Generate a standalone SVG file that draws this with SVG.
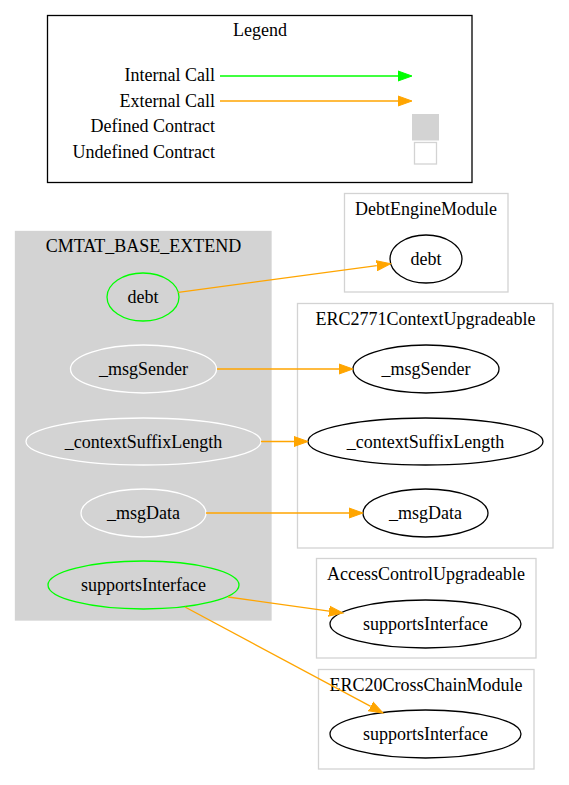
<svg xmlns="http://www.w3.org/2000/svg" width="569" height="785" viewBox="0 0 569 785">
<style>
text { font-family: "Liberation Serif", "Times New Roman", serif; font-size: 18px; fill: #000; }
.mid { text-anchor: middle; }
.end { text-anchor: end; }
.cl { fill: none; stroke: #d3d3d3; stroke-width: 1.3; }
.clf { fill: #d3d3d3; stroke: #d3d3d3; stroke-width: 1.3; }
.def { fill: none; stroke: #000; stroke-width: 1.3; }
.int { fill: none; stroke: #00ff00; stroke-width: 1.3; }
.und { fill: none; stroke: #ffffff; stroke-width: 1.3; }
.eo { fill: none; stroke: #ffa500; stroke-width: 1.3; }
.eg { fill: none; stroke: #00ff00; stroke-width: 1.3; }
</style>
<defs>
<marker id="ao" markerUnits="userSpaceOnUse" orient="auto" markerWidth="16" markerHeight="12" refX="0" refY="6" viewBox="0 0 16 12">
<path d="M0,1 L14,6 L0,11 z" fill="#ffa500" stroke="#ffa500" stroke-width="1"/>
</marker>
<marker id="ag" markerUnits="userSpaceOnUse" orient="auto" markerWidth="16" markerHeight="12" refX="0" refY="6" viewBox="0 0 16 12">
<path d="M0,1 L14,6 L0,11 z" fill="#00ff00" stroke="#00ff00" stroke-width="1"/>
</marker>
</defs>
<rect width="569" height="785" fill="#fff"/>

<g id="legend">
<rect x="47.5" y="15.5" width="424.5" height="167" fill="none" stroke="#000" stroke-width="1.3"/>
<text class="mid" x="260" y="36">Legend</text>
<text class="end" x="215" y="81">Internal Call</text>
<text class="end" x="215" y="106.5">External Call</text>
<text class="end" x="215" y="132">Defined Contract</text>
<text class="end" x="215" y="157.5">Undefined Contract</text>
<path class="eg" d="M220,76 L398,76" marker-end="url(#ag)"/>
<path class="eo" d="M220,101 L398,101" marker-end="url(#ao)"/>
<rect x="412.5" y="114.5" width="26" height="25.5" fill="#d3d3d3" stroke="#d3d3d3" stroke-width="1"/>
<rect x="414.5" y="142.5" width="22" height="21.5" fill="none" stroke="#d3d3d3" stroke-width="1.3"/>
</g>

<g id="cluster_CMTAT_BASE_EXTEND">
<rect class="clf" x="15.5" y="231.5" width="255.5" height="388.5"/>
<text class="mid" x="143.5" y="252">CMTAT_BASE_EXTEND</text>
</g>
<g id="node_base_debt"><ellipse class="int" cx="143" cy="297" rx="36" ry="24"/><text class="mid" x="143" y="303">debt</text></g>
<g id="node_base_msgSender"><ellipse class="und" cx="143.5" cy="369" rx="73" ry="24"/><text class="mid" x="143.5" y="375">_msgSender</text></g>
<g id="node_base_contextSuffixLength"><ellipse class="und" cx="143.5" cy="441.5" rx="117.5" ry="23.5"/><text class="mid" x="143.5" y="447.5">_contextSuffixLength</text></g>
<g id="node_base_msgData"><ellipse class="und" cx="143.5" cy="513" rx="62.5" ry="24"/><text class="mid" x="143.5" y="519">_msgData</text></g>
<g id="node_base_supportsInterface"><ellipse class="int" cx="143.5" cy="585" rx="95.5" ry="24"/><text class="mid" x="143.5" y="591">supportsInterface</text></g>

<g id="cluster_DebtEngineModule">
<rect class="cl" x="344.5" y="193.5" width="163.5" height="98.5"/>
<text class="mid" x="426" y="215">DebtEngineModule</text>
</g>
<g id="node_debt_debt"><ellipse class="def" cx="426" cy="259" rx="36" ry="24"/><text class="mid" x="426" y="265">debt</text></g>

<g id="cluster_ERC2771ContextUpgradeable">
<rect class="cl" x="297.5" y="303.5" width="255.5" height="244.5"/>
<text class="mid" x="425.5" y="325">ERC2771ContextUpgradeable</text>
</g>
<g id="node_erc2771_msgSender"><ellipse class="def" cx="426" cy="369" rx="73" ry="24"/><text class="mid" x="426" y="375">_msgSender</text></g>
<g id="node_erc2771_contextSuffixLength"><ellipse class="def" cx="425.5" cy="441.5" rx="117.5" ry="23.5"/><text class="mid" x="425.5" y="447.5">_contextSuffixLength</text></g>
<g id="node_erc2771_msgData"><ellipse class="def" cx="425.5" cy="513" rx="62.5" ry="24"/><text class="mid" x="425.5" y="519">_msgData</text></g>

<g id="cluster_AccessControlUpgradeable">
<rect class="cl" x="316.5" y="558.5" width="219.5" height="99.5"/>
<text class="mid" x="426" y="580">AccessControlUpgradeable</text>
</g>
<g id="node_acu_supportsInterface"><ellipse class="def" cx="425.5" cy="624" rx="95.5" ry="24"/><text class="mid" x="425.5" y="630">supportsInterface</text></g>

<g id="cluster_ERC20CrossChainModule">
<rect class="cl" x="318.5" y="669.5" width="215.5" height="99.5"/>
<text class="mid" x="426" y="691">ERC20CrossChainModule</text>
</g>
<g id="node_erc20_supportsInterface"><ellipse class="def" cx="425.5" cy="734" rx="95.5" ry="24"/><text class="mid" x="425.5" y="740">supportsInterface</text></g>

<g id="connectors">
<path class="eo" d="M178.3,292.3 L376.8,265.6" marker-end="url(#ao)"/>
<path class="eo" d="M217,369 L339,369" marker-end="url(#ao)"/>
<path class="eo" d="M261,441.5 L294,441.5" marker-end="url(#ao)"/>
<path class="eo" d="M206,513 L349,513" marker-end="url(#ao)"/>
<path class="eo" d="M228,597 L329.1,611.1" marker-end="url(#ao)"/>
<path class="eo" d="M185,607 L370.7,706.4" marker-end="url(#ao)"/>
</g>
</svg>
